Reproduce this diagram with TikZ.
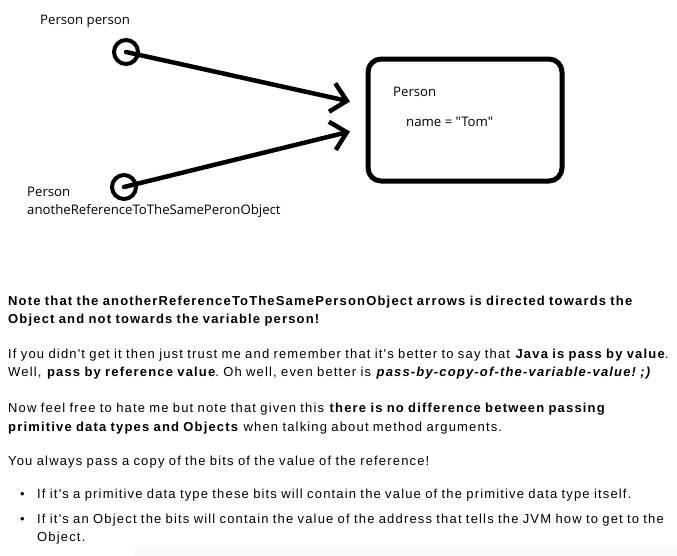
\documentclass[tikz,border=0pt]{standalone}
\usepackage{fontspec}
\newfontfamily\notefont{Open Sans}[Ligatures=TeXOff]
\newfontfamily\bodyfont{Liberation Sans}[Ligatures=TeXOff,LetterSpace=9]
\usetikzlibrary{arrows.meta}

\begin{document}
\begin{tikzpicture}[x=1pt,y=-1pt,
		refvar/.style={draw,circle,line width=4pt,minimum size=24pt,inner sep=0pt},
		refline/.style={line width=4.5pt,line cap=round,-{Straight Barb[length=15pt,width=29pt]}},
		objbox/.style={draw,line width=5pt,rounded corners=13pt,minimum width=194pt,minimum height=122pt,inner sep=0pt},
		lbl/.style={font=\notefont\fontsize{13.2}{18.5}\selectfont,inner sep=0pt,anchor=west,align=left},
		para/.style={font=\bodyfont\fontsize{13}{18.5}\selectfont\frenchspacing,inner sep=0pt,anchor=north west,align=left,text width=672pt}]
	\useasboundingbox (0,0) rectangle (677,555);
	\shade[top color=white,bottom color=black!3] (135,543) rectangle (677,555);
	% the two reference variables and the object
	\node[refvar] (person) at (126,52) {};
	\node[refvar] (another) at (124,187) {};
	\node[objbox] (obj) at (465,120) {};
	\coordinate (tipA) at (350,101.5);
	\coordinate (tipB) at (350,131.5);
	\draw[refline] (person.center) -- (tipA);
	\draw[refline] (another.center) -- (tipB);
	\node[lbl] (personlbl) at (40,21) {Person person};
	\node[lbl] (anotherlbl) at (27,202.5) {Person\\anotheReferenceToTheSamePeronObject};
	\node[lbl] (objclass) at (393,91.5) {Person};
	\node[lbl] (objfield) at (406,121.5) {name = "Tom"};
	% the text below
	\node[para] (note) at (8,292) {\strut\textbf{Note that the anotherReferenceToTheSamePersonObject arrows is directed towards the}\\\textbf{Object and not towards the variable person!}};
	\node[para] (trust) at (8,345) {\strut If you didn't get it then just trust me and remember that it's better to say that \textbf{Java is pass by value}.\\Well, \textbf{pass by reference value}. Oh well, even better is \textbf{\textit{pass-by-copy-of-the-variable-value! ;)}}};
	\node[para] (hate) at (8,399.5) {\strut Now feel free to hate me but note that given this \textbf{there is no difference between passing}\\\textbf{primitive data types and Objects} when talking about method arguments.};
	\node[para] (always) at (8,452.5) {\strut You always pass a copy of the bits of the value of the reference!};
	\foreach \name/\ypos/\item in {prim/485/{If it's a primitive data type these bits will contain the value of the primitive data type itself.},
			objitem/510/{If it's an Object the bits will contain the value of the address that tells the JVM how to get to the\\Object.}} {
		\node[para,text width=640pt] (\name) at (37,\ypos) {\strut\item};
		\node[para,text width=10pt] (\name dot) at (20,\ypos) {\strut\textbullet};
	}
\end{tikzpicture}
\end{document}
